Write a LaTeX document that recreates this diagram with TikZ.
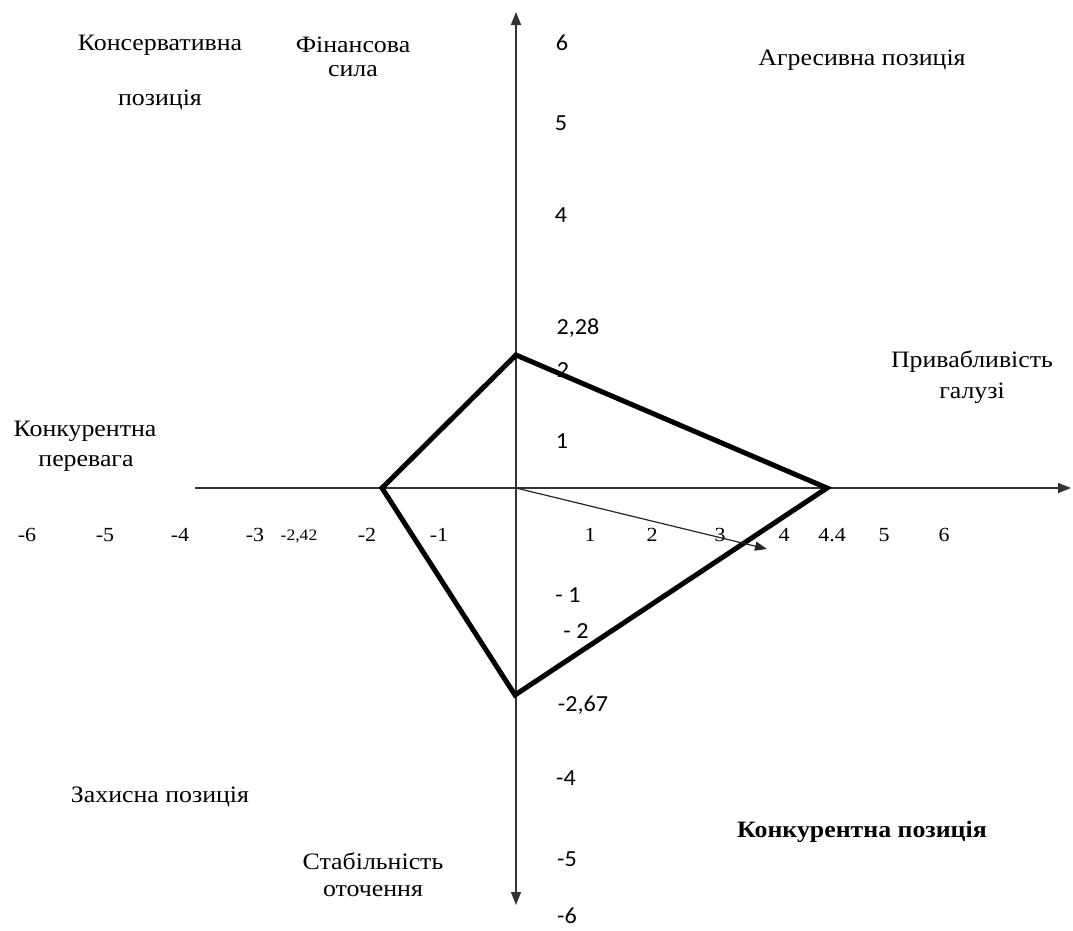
\documentclass[tikz,border=0pt]{standalone}
\usepackage{fontspec}
\setmainfont[FakeStretch=1.1]{Liberation Serif}
\newfontfamily\numsans[FakeStretch=1.05]{Carlito}
\usetikzlibrary{arrows.meta}
\tikzset{
  lbl/.style={inner sep=0pt, font=\fontsize{23.5}{27}\selectfont, align=center},
  hnum/.style={inner sep=0pt, font=\fontsize{20}{22}\selectfont},
  vnum/.style={inner sep=0pt, font=\numsans\fontsize{23}{26}\selectfont},
  axis/.style={line width=1.5pt, draw=black!80, -{Triangle[length=13pt,width=10pt]}},
  poly/.style={line width=5pt, line join=miter, draw=black},
  vec/.style={line width=1.2pt, draw=black!85, -{Triangle[length=12pt,width=9pt]}}
}
\begin{document}
\begin{tikzpicture}[x=1pt,y=-1pt]
\useasboundingbox[fill=white] (0,0) rectangle (1073,930);
% axes
\coordinate (O) at (516,488);
\coordinate (ytop) at (516,12);
\coordinate (ybot) at (516,905);
\coordinate (xleft) at (195,488);
\coordinate (xright) at (1071,488);
\draw[axis] (O) -- (ytop);
\draw[axis] (O) -- (ybot);
\draw[line width=1.5pt, draw=black!80] (O) -- (xleft);
\draw[axis] (O) -- (xright);
% vertical axis numbers
\node[vnum] (v6) at (562,43) {6};
\node[vnum] (v5) at (561,123) {5};
\node[vnum] (v4) at (561,215) {4};
\node[vnum] (v228) at (578,328) {2,28};
\node[vnum] (v2) at (563,370) {2};
\node[vnum] (v1) at (562,441) {1};
\node[vnum] (vm1) at (568,595) {- 1};
\node[vnum] (vm2) at (576,631) {- 2};
\node[vnum] (vm267) at (583,705) {-2,67};
\node[vnum] (vm4) at (566,778) {-4};
\node[vnum] (vm5) at (567,859) {-5};
\node[vnum] (vm6) at (567,916) {-6};
% horizontal axis numbers
\node[hnum] (hm6) at (27,535) {-6};
\node[hnum] (hm5) at (105,535) {-5};
\node[hnum] (hm4) at (180,535) {-4};
\node[hnum] (hm3) at (255,535) {-3};
\node[hnum, font=\fontsize{16}{18}\selectfont] (hm242) at (299,536) {-2,42};
\node[hnum] (hm2) at (367,535) {-2};
\node[hnum] (hm1) at (439,535) {-1};
\node[hnum] (h1) at (590,535) {1};
\node[hnum] (h2) at (652,535) {2};
\node[hnum] (h3) at (720,535) {3};
\node[hnum] (h4) at (784,535) {4};
\node[hnum] (h44) at (832,535) {4.4};
\node[hnum] (h5) at (884,535) {5};
\node[hnum] (h6) at (944,535) {6};
% labels
\node[lbl] (kons1) at (160,45) {Консервативна};
\node[lbl] (kons2) at (160,100) {позиція};
\node[lbl] (fin1) at (353,45) {Фінансова};
\node[lbl] (fin2) at (353,71) {сила};
\node[lbl] (agr) at (862,60) {Агресивна позиція};
\node[lbl] (pryv1) at (972,362) {Привабливість};
\node[lbl] (pryv2) at (972,393) {галузі};
\node[lbl] (konk1) at (85,431) {Конкурентна};
\node[lbl] (konk2) at (86,463) {перевага};
\node[lbl] (zakh) at (160,797) {Захисна позиція};
\node[lbl] (stab1) at (373,861) {Стабільність};
\node[lbl] (stab2) at (373,891) {оточення};
\node[lbl, font=\bfseries\fontsize{23.5}{27}\selectfont] (kpoz) at (862,832) {Конкурентна позиція};
% polygon
\coordinate (P1) at (516,355);
\coordinate (P2) at (827,488);
\coordinate (P3) at (515,695);
\coordinate (P4) at (382,488);
\draw[poly] (P1) -- (P2) -- (P3) -- (P4) -- cycle;
% vector
\coordinate (V) at (767,549);
\draw[vec] (O) -- (V);
\end{tikzpicture}
\end{document}
